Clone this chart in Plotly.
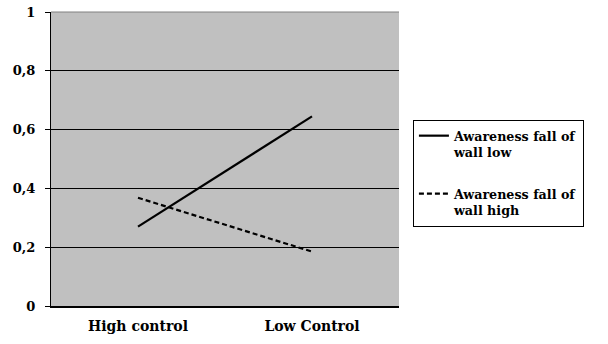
import plotly.graph_objects as go

categories = ["High control", "Low Control"]
low_values = [0.27, 0.645]
high_values = [0.368, 0.185]
series_names = ["Awareness fall of<br>wall low", "Awareness fall of<br>wall high"]
y_ticks = [0, 0.2, 0.4, 0.6, 0.8, 1]

FONT = "DejaVu Serif"

fig = go.Figure()
fig.add_trace(go.Scatter(x=categories, y=low_values, mode="lines", name=series_names[0],
                         legendgroup="a",
                         line=dict(color="black", width=2.2, dash="solid")))
fig.add_trace(go.Scatter(x=categories, y=high_values, mode="lines", name=series_names[1],
                         legendgroup="b",
                         line=dict(color="black", width=2.2, dash="5px,3px")))

fig.update_layout(
    width=608, height=344,
    margin=dict(l=51, r=209, t=12, b=38),
    paper_bgcolor="white",
    plot_bgcolor="#c0c0c0",
    separators=", ",
    font=dict(family=FONT, size=13, color="black", weight="bold"),
    showlegend=True,
    legend=dict(
        x=1.04, y=0.633, xanchor="left", yanchor="top",
        bordercolor="black", borderwidth=1, bgcolor="white",
        font=dict(family=FONT, size=12.7, color="black", weight="bold"),
        tracegroupgap=22, valign="top", itemwidth=30,
    ),
    xaxis=dict(
        type="category", range=[-0.5, 1.5], automargin=False,
        showgrid=False, showline=True, linecolor="black", linewidth=2,
        ticks="", ticklabelstandoff=6, zeroline=False,
        tickfont=dict(family=FONT, size=14, color="black", weight="bold"),
    ),
    yaxis=dict(
        range=[0, 1], tickvals=y_ticks, automargin=False,
        showgrid=True, gridcolor="black", gridwidth=1,
        showline=True, linecolor="black", linewidth=1,
        ticks="outside", ticklen=5, tickcolor="black",
        ticklabelstandoff=7, zeroline=False,
    ),
)
# grey top border of plot area
fig.add_shape(type="line", xref="paper", yref="paper", x0=0, x1=1, y0=1, y1=1,
              line=dict(color="#808080", width=1))

fig.write_html("out.html", config={"displayModeBar": False},
               post_script="document.body.style.margin='0';document.body.style.overflow='hidden';")
